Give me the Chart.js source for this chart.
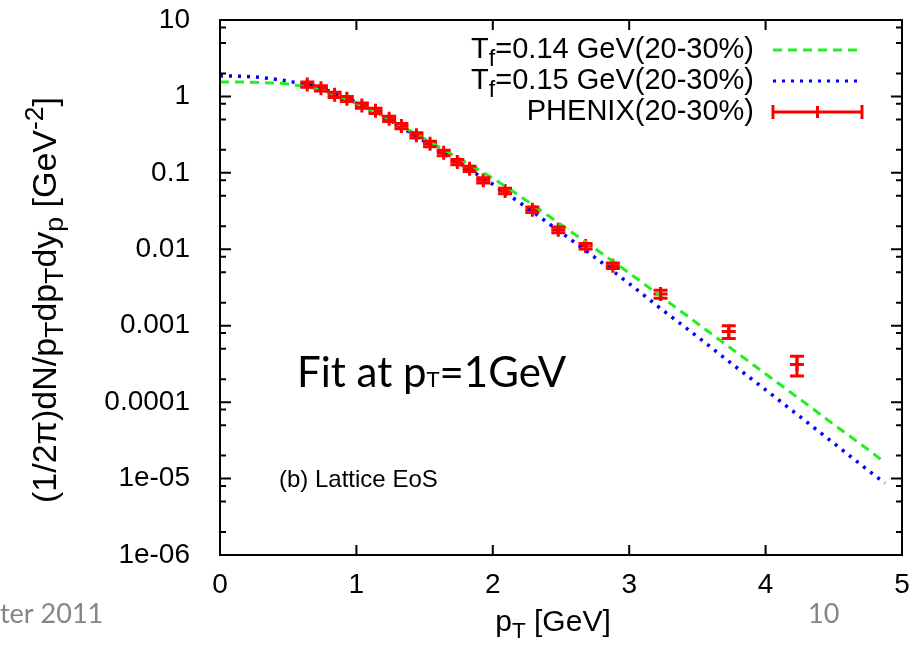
<!DOCTYPE html>
<html>
<head>
<meta charset="utf-8">
<script src="https://cdn.jsdelivr.net/npm/chart.js@4.4.0/dist/chart.umd.min.js"></script>
<style>
  html, body { margin: 0; padding: 0; background: #fff; }
</style>
</head>
<body>
<canvas id="spectrum" width="914" height="645"></canvas>
<script>
// hydro curves, sampled in pT [GeV]
const curvePt = [0, 0.25, 0.5, 0.75, 1.0, 1.25, 1.5, 1.75, 2.0, 2.25, 2.5, 2.75, 3.0, 3.25, 3.5, 3.75, 4.0, 4.25, 4.5, 4.75, 4.875];
const tf014 = [1.55, 1.53, 1.45, 1.20, 0.81, 0.49, 0.279, 0.155, 0.085, 0.043, 0.021, 0.0102, 0.0049, 0.00229, 0.00107, 5.0e-4, 2.34e-4, 1.10e-4, 5.1e-5, 2.4e-5, 1.62e-5];
const tf015 = [1.86, 1.80, 1.58, 1.26, 0.83, 0.48, 0.257, 0.135, 0.071, 0.035, 0.0166, 0.0078, 0.00355, 0.00158, 7.2e-4, 3.2e-4, 1.45e-4, 6.5e-5, 2.9e-5, 1.29e-5, 8.7e-6];

// PHENIX protons, 20-30%
const phenixPt = [0.64, 0.74, 0.84, 0.93, 1.04, 1.14, 1.24, 1.33, 1.44, 1.54, 1.64, 1.74, 1.83, 1.93, 2.09, 2.29, 2.48, 2.68, 2.88, 3.23, 3.73, 4.23];
const phenixY = [1.43, 1.28, 1.05, 0.93, 0.76, 0.65, 0.51, 0.41, 0.31, 0.24, 0.183, 0.139, 0.113, 0.080, 0.058, 0.033, 0.0180, 0.0110, 0.0061, 0.0026, 0.00084, 0.00031];
const phenixErr = [0.11, 0.10, 0.08, 0.07, 0.06, 0.05, 0.04, 0.033, 0.025, 0.02, 0.015, 0.011, 0.009, 0.0065, 0.0047, 0.0027, 0.0015, 0.0009, 0.0005, 0.00032, 0.00016, 0.00009];

const xTicks = [0, 1, 2, 3, 4, 5];
const yTicks = [10, 1, 0.1, 0.01, 0.001, 0.0001, 1e-5, 1e-6];
const yTickLabels = ['10', '1', '0.1', '0.01', '0.001', '0.0001', '1e-05', '1e-06'];
const yMinor = [2, 5, 8];

const GREEN = '#22ee22';
const BLUE = '#0000ff';
const RED = '#ff0000';
const SANS = '"Liberation Sans", Arial, sans-serif';
const SLIDE = 'Lato, "Open Sans", sans-serif';

function pairs(xs, ys) {
  return xs.map((x, i) => ({ x: x, y: ys[i] }));
}

// draw a run of text pieces; each piece may be shifted down (sub) or up (sup)
function richText(ctx, parts, x, y, size, align) {
  let total = 0;
  parts.forEach(p => {
    ctx.font = (p.s ? size * p.s : size) + 'px ' + SANS;
    p.w = ctx.measureText(p.t).width;
    total += p.w;
  });
  let cx = align === 'right' ? x - total : align === 'center' ? x - total / 2 : x;
  ctx.textAlign = 'left';
  ctx.textBaseline = 'alphabetic';
  parts.forEach(p => {
    ctx.font = (p.s ? size * p.s : size) + 'px ' + SANS;
    ctx.fillText(p.t, cx, y + (p.dy || 0));
    cx += p.w;
  });
}

const decorations = {
  id: 'decorations',
  afterDatasetsDraw(chart) {
    const ctx = chart.ctx;
    const xs = chart.scales.x, ys = chart.scales.y;
    const area = chart.chartArea;

    // error bars of the PHENIX points
    ctx.save();
    ctx.strokeStyle = RED;
    ctx.lineWidth = 3;
    phenixPt.forEach((pt, i) => {
      const px = xs.getPixelForValue(pt);
      const top = ys.getPixelForValue(phenixY[i] + phenixErr[i]);
      const bot = ys.getPixelForValue(phenixY[i] - phenixErr[i]);
      ctx.beginPath();
      ctx.moveTo(px, top); ctx.lineTo(px, bot);
      ctx.moveTo(px - 7, top); ctx.lineTo(px + 7, top);
      ctx.moveTo(px - 7, bot); ctx.lineTo(px + 7, bot);
      ctx.stroke();
    });
    ctx.restore();

    // frame with inward ticks on all four sides
    ctx.save();
    ctx.strokeStyle = '#000';
    ctx.lineWidth = 2;
    ctx.strokeRect(area.left, area.top, area.right - area.left, area.bottom - area.top);
    ctx.beginPath();
    xTicks.forEach(v => {
      const px = xs.getPixelForValue(v);
      ctx.moveTo(px, area.bottom); ctx.lineTo(px, area.bottom - 10);
      ctx.moveTo(px, area.top); ctx.lineTo(px, area.top + 10);
    });
    yTicks.forEach(v => {
      const py = ys.getPixelForValue(v);
      ctx.moveTo(area.left, py); ctx.lineTo(area.left + 11, py);
      ctx.moveTo(area.right, py); ctx.lineTo(area.right - 11, py);
    });
    yTicks.slice(1).forEach(v => {
      yMinor.forEach(m => {
        const py = ys.getPixelForValue(v * m);
        ctx.moveTo(area.left, py); ctx.lineTo(area.left + 6, py);
        ctx.moveTo(area.right, py); ctx.lineTo(area.right - 6, py);
      });
    });
    ctx.stroke();
    ctx.restore();

    // key, top right
    ctx.save();
    ctx.fillStyle = '#000';
    const keyX = 754, s0 = 773, s1 = 862;
    richText(ctx, [{ t: 'T' }, { t: 'f', s: 0.8, dy: 8 }, { t: '=0.14 GeV(20-30%)' }], keyX, 58, 29, 'right');
    richText(ctx, [{ t: 'T' }, { t: 'f', s: 0.8, dy: 8 }, { t: '=0.15 GeV(20-30%)' }], keyX, 89, 29, 'right');
    richText(ctx, [{ t: 'PHENIX(20-30%)' }], keyX, 120, 29, 'right');
    ctx.lineWidth = 3;
    ctx.strokeStyle = GREEN;
    ctx.setLineDash([9, 6]);
    ctx.beginPath(); ctx.moveTo(s0, 50); ctx.lineTo(s1, 50); ctx.stroke();
    ctx.strokeStyle = BLUE;
    ctx.setLineDash([3, 6]);
    ctx.beginPath(); ctx.moveTo(s0, 81); ctx.lineTo(s1, 81); ctx.stroke();
    ctx.setLineDash([]);
    ctx.strokeStyle = RED;
    ctx.beginPath();
    ctx.moveTo(s0, 112); ctx.lineTo(s1, 112);
    ctx.moveTo(s0, 105); ctx.lineTo(s0, 119);
    ctx.moveTo(s1, 105); ctx.lineTo(s1, 119);
    ctx.moveTo((s0 + s1) / 2, 106); ctx.lineTo((s0 + s1) / 2, 118);
    ctx.stroke();
    ctx.restore();

    // annotations inside the frame
    ctx.save();
    ctx.fillStyle = '#000';
    ctx.font = '42px ' + SLIDE;
    ctx.textAlign = 'left';
    ctx.textBaseline = 'alphabetic';
    let fx = 297;
    ctx.fillText('Fit at p', fx, 387);
    fx += ctx.measureText('Fit at p').width;
    ctx.font = '22px ' + SLIDE;
    ctx.fillText('T', fx, 387);
    fx += ctx.measureText('T').width;
    ctx.font = '42px ' + SLIDE;
    ctx.fillText('=1GeV', fx, 387);
    ctx.restore();

    ctx.save();
    ctx.fillStyle = '#000';
    richText(ctx, [{ t: '(b) Lattice EoS' }], 279, 487, 24, 'left');
    ctx.restore();

    // axis titles
    ctx.save();
    ctx.fillStyle = '#000';
    richText(ctx, [{ t: 'p' }, { t: 'T', s: 0.75, dy: 7 }, { t: ' [GeV]' }], 553, 631, 30, 'center');
    ctx.translate(56, 300);
    ctx.rotate(-Math.PI / 2);
    richText(ctx, [
      { t: '(1/2\u03C0)dN/p' }, { t: 'T', s: 0.78, dy: 7 },
      { t: 'dp' }, { t: 'T', s: 0.78, dy: 7 },
      { t: 'dy' }, { t: 'p', s: 0.78, dy: 7 },
      { t: ' [GeV' }, { t: '-2', s: 0.78, dy: -13 }, { t: ']' }
    ], 0, 0, 34, 'center');
    ctx.restore();

    // slide footer
    ctx.save();
    ctx.fillStyle = '#858585';
    ctx.font = '27px ' + SLIDE;
    ctx.textAlign = 'left';
    ctx.fillText('ter 2011', 0, 623);
    ctx.fillText('10', 808, 623);
    ctx.restore();
  }
};

new Chart(document.getElementById('spectrum'), {
  type: 'line',
  data: {
    datasets: [
      {
        label: 'Tf=0.14 GeV(20-30%)',
        data: pairs(curvePt, tf014),
        borderColor: GREEN,
        borderWidth: 3,
        borderDash: [9, 6],
        pointRadius: 0,
        cubicInterpolationMode: 'monotone',
        fill: false
      },
      {
        label: 'Tf=0.15 GeV(20-30%)',
        data: pairs(curvePt, tf015),
        borderColor: BLUE,
        borderWidth: 3.5,
        borderDash: [3, 6],
        pointRadius: 0,
        cubicInterpolationMode: 'monotone',
        fill: false
      },
      {
        label: 'PHENIX(20-30%)',
        data: pairs(phenixPt, phenixY),
        showLine: false,
        pointStyle: 'cross',
        pointRadius: 7,
        borderColor: RED,
        backgroundColor: RED,
        pointBorderWidth: 3
      }
    ]
  },
  options: {
    responsive: false,
    animation: false,
    layout: { padding: { top: 20, right: 12, left: 0, bottom: 0 } },
    plugins: { legend: { display: false }, tooltip: { enabled: false } },
    scales: {
      x: {
        type: 'linear',
        min: 0,
        max: 5,
        grid: { display: false },
        border: { display: false },
        afterBuildTicks(s) { s.ticks = xTicks.map(v => ({ value: v })); },
        ticks: { color: '#000', padding: 5, font: { family: SANS, size: 28 }, maxRotation: 0 },
        afterFit(s) { s.height = 90; s.paddingLeft = 0; s.paddingRight = 0; }
      },
      y: {
        type: 'logarithmic',
        min: 1e-6,
        max: 10,
        grid: { display: false },
        border: { display: false },
        afterBuildTicks(s) { s.ticks = yTicks.map(v => ({ value: v })); },
        ticks: {
          color: '#000',
          padding: 22,
          font: { family: SANS, size: 28 },
          callback: v => yTickLabels[yTicks.indexOf(v)]
        },
        afterFit(s) { s.width = 220; s.paddingTop = 0; s.paddingBottom = 0; }
      }
    }
  },
  plugins: [decorations]
});
</script>
</body>
</html>
